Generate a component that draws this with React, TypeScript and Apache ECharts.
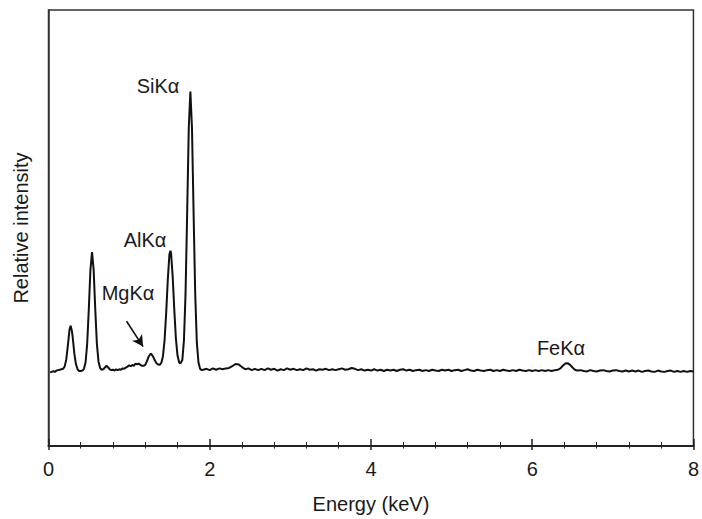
import React, { useEffect, useRef } from "react";
import * as echarts from "echarts";

// Energy (keV), relative intensity – region with the light-element peaks
const lowEnergySpectrum: [number, number][] = [
  [0.02, 16.9], [0.04, 17.0], [0.06, 17.2], [0.08, 17.0], [0.10, 17.3], [0.12, 17.4], [0.14, 17.5],
  [0.16, 17.6], [0.18, 17.7], [0.20, 18.2], [0.22, 19.8], [0.24, 23.0], [0.26, 26.6], [0.275, 27.6],
  [0.29, 26.4], [0.30, 25.0], [0.32, 21.3], [0.34, 18.8], [0.36, 17.6], [0.38, 17.2], [0.40, 17.2],
  [0.42, 17.3], [0.44, 17.7], [0.46, 19.2], [0.48, 23.5], [0.50, 31.4], [0.52, 40.4], [0.54, 44.5],
  [0.56, 40.4], [0.58, 31.4], [0.60, 23.5], [0.62, 19.4], [0.64, 17.9], [0.66, 17.5], [0.68, 17.6],
  [0.70, 18.0], [0.72, 18.4], [0.74, 18.0], [0.76, 17.6], [0.78, 17.4], [0.80, 17.5], [0.82, 17.3],
  [0.84, 17.6], [0.86, 17.4], [0.88, 17.6], [0.90, 17.5], [0.92, 17.8], [0.94, 17.7], [0.96, 18.0],
  [0.98, 18.2], [1.00, 18.5], [1.02, 18.3], [1.04, 18.6], [1.06, 18.4], [1.08, 18.9], [1.10, 18.7],
  [1.12, 18.9], [1.14, 18.6], [1.16, 18.4], [1.18, 18.4], [1.20, 18.6], [1.22, 19.4], [1.24, 20.4],
  [1.26, 21.0], [1.27, 21.2], [1.28, 21.0], [1.30, 20.4], [1.32, 19.6], [1.34, 19.0], [1.36, 18.7],
  [1.38, 18.6], [1.40, 19.1], [1.42, 20.6], [1.44, 24.3], [1.46, 30.6], [1.48, 38.2], [1.50, 44.0],
  [1.512, 44.8], [1.52, 44.3], [1.54, 39.0], [1.56, 31.4], [1.58, 24.7], [1.60, 20.8], [1.62, 19.2],
  [1.635, 18.9], [1.64, 19.0], [1.66, 19.7], [1.68, 24.2], [1.70, 35.0], [1.72, 53.4], [1.74, 73.0],
  [1.76, 81.3], [1.78, 72.8], [1.80, 53.2], [1.82, 34.8], [1.84, 23.7], [1.86, 19.2], [1.88, 17.7],
  [1.90, 17.4],
];

// Energy (keV), relative intensity – flat background and FeKα
const highEnergySpectrum: [number, number][] = [
  [1.92, 17.5], [1.96, 17.7], [2.00, 17.4], [2.04, 17.8], [2.08, 17.5], [2.12, 17.8], [2.16, 17.6],
  [2.20, 17.8], [2.24, 17.9], [2.28, 18.3], [2.32, 18.8], [2.36, 18.7], [2.40, 18.1], [2.44, 17.6],
  [2.48, 17.8], [2.52, 17.4], [2.56, 17.7], [2.60, 17.4], [2.64, 17.7], [2.68, 17.4], [2.72, 17.8],
  [2.76, 17.5], [2.80, 17.7], [2.84, 17.3], [2.88, 17.6], [2.92, 17.4], [2.96, 17.8], [3.00, 17.5],
  [3.04, 17.7], [3.08, 17.4], [3.12, 17.6], [3.16, 17.4], [3.20, 17.8], [3.24, 17.5], [3.28, 17.6],
  [3.32, 17.3], [3.36, 17.6], [3.40, 17.5], [3.44, 17.7], [3.48, 17.4], [3.52, 17.6], [3.56, 17.4],
  [3.60, 17.6], [3.64, 17.8], [3.68, 17.5], [3.72, 17.6], [3.76, 17.9], [3.80, 17.7], [3.84, 17.4],
  [3.88, 17.6], [3.92, 17.3], [3.96, 17.5], [4.00, 17.3], [4.04, 17.6], [4.08, 17.3], [4.12, 17.5],
  [4.16, 17.2], [4.20, 17.5], [4.24, 17.3], [4.28, 17.5], [4.32, 17.2], [4.36, 17.5], [4.40, 17.6],
  [4.44, 17.3], [4.48, 17.5], [4.52, 17.2], [4.56, 17.4], [4.60, 17.5], [4.64, 17.2], [4.68, 17.4],
  [4.72, 17.2], [4.76, 17.5], [4.80, 17.3], [4.84, 17.2], [4.88, 17.5], [4.92, 17.3], [4.96, 17.5],
  [5.00, 17.2], [5.04, 17.4], [5.08, 17.5], [5.12, 17.2], [5.16, 17.4], [5.20, 17.6], [5.24, 17.3],
  [5.28, 17.2], [5.32, 17.5], [5.36, 17.3], [5.40, 17.2], [5.44, 17.4], [5.48, 17.5], [5.52, 17.2],
  [5.56, 17.4], [5.60, 17.2], [5.64, 17.5], [5.68, 17.3], [5.72, 17.2], [5.76, 17.4], [5.80, 17.2],
  [5.84, 17.5], [5.88, 17.3], [5.92, 17.2], [5.96, 17.4], [6.00, 17.2], [6.04, 17.4], [6.08, 17.2],
  [6.12, 17.4], [6.16, 17.2], [6.20, 17.4], [6.24, 17.2], [6.28, 17.4], [6.32, 17.5], [6.35, 17.8],
  [6.38, 18.4], [6.41, 18.9], [6.44, 19.0], [6.47, 18.6], [6.50, 18.0], [6.53, 17.5], [6.56, 17.3],
  [6.60, 17.4], [6.64, 17.2], [6.68, 17.1], [6.72, 17.4], [6.76, 17.2], [6.80, 17.1], [6.84, 17.3],
  [6.88, 17.4], [6.92, 17.2], [6.96, 17.1], [7.00, 17.3], [7.04, 17.4], [7.08, 17.2], [7.12, 17.1],
  [7.16, 17.3], [7.20, 17.1], [7.24, 17.3], [7.28, 17.1], [7.32, 17.3], [7.36, 17.0], [7.40, 17.2],
  [7.44, 17.3], [7.48, 17.1], [7.52, 17.0], [7.56, 17.3], [7.60, 17.1], [7.64, 17.0], [7.68, 17.2],
  [7.72, 17.3], [7.76, 17.0], [7.80, 17.2], [7.84, 17.0], [7.88, 17.2], [7.92, 17.0], [7.96, 17.2],
  [8.00, 17.1],
];

const xTickValues = [0, 2, 4, 6, 8];

// Peak labels: [text, pixel centre x, pixel centre y]
const peakLabels: [string, number, number][] = [
  ["SiKα", 158, 86],
  ["AlKα", 145, 240],
  ["MgKα", 128, 293],
  ["FeKα", 561, 348],
];

// Arrow pointing to the MgKα peak (data coordinates: start, end)
const mgArrow: [number, number][] = [
  [0.968, 28.6],
  [1.173, 22.8],
];

const FONT = "'Liberation Sans', Arial, Helvetica, sans-serif";
const INK = "#1a1a1a";

export default function App() {
  const ref = useRef<HTMLDivElement>(null);

  useEffect(() => {
    if (!ref.current) return;
    const chart = echarts.init(ref.current, undefined, { renderer: "svg" });
    const spectrum = [...lowEnergySpectrum, ...highEnergySpectrum];

    chart.setOption({
      animation: false,
      backgroundColor: "#ffffff",
      grid: {
        left: 48.5,
        right: 7,
        top: 10,
        bottom: 71,
        show: true,
        borderColor: "#333",
        borderWidth: 1.5,
        backgroundColor: "transparent",
      },
      xAxis: [
        {
          type: "value",
          min: xTickValues[0],
          max: xTickValues[xTickValues.length - 1],
          interval: 2,
          name: "Energy (keV)",
          nameLocation: "middle",
          nameGap: 48,
          nameTextStyle: { fontFamily: FONT, fontSize: 20, color: INK },
          axisLine: { show: true, lineStyle: { color: "#222", width: 2 } },
          axisTick: { show: true, inside: true, length: 7, lineStyle: { color: "#222", width: 1.5 } },
          minorTick: { show: true, splitNumber: 5, length: 4, lineStyle: { color: "#222", width: 1 } },
          axisLabel: { show: true, margin: 13, fontFamily: FONT, fontSize: 20, color: INK },
          splitLine: { show: false },
        },
        {
          type: "value",
          min: xTickValues[0],
          max: xTickValues[xTickValues.length - 1],
          interval: 2,
          position: "bottom",
          axisLine: { show: false },
          axisTick: { show: true, inside: false, length: 4, lineStyle: { color: "#222", width: 1.5 } },
          minorTick: { show: true, splitNumber: 5, length: 2.5, lineStyle: { color: "#222", width: 1 } },
          axisLabel: { show: false },
          splitLine: { show: false },
        },
      ],
      yAxis: {
        type: "value",
        min: 0,
        max: 100,
        name: "Relative intensity",
        nameLocation: "middle",
        nameGap: 18,
        nameTextStyle: { fontFamily: FONT, fontSize: 20, color: INK },
        axisLine: { show: true, lineStyle: { color: "#333", width: 1.5 } },
        axisTick: { show: false },
        axisLabel: { show: false },
        splitLine: { show: false },
      },
      series: [
        {
          type: "line",
          xAxisIndex: 0,
          data: spectrum,
          showSymbol: false,
          symbol: "none",
          lineStyle: { color: "#111", width: 2 },
          smooth: false,
          markLine: {
            silent: true,
            symbol: ["none", "arrow"],
            symbolSize: [9, 11],
            label: { show: false },
            lineStyle: { color: "#111", width: 1.6, type: "solid" },
            data: [[{ coord: mgArrow[0] }, { coord: mgArrow[1] }]],
          },
        },
      ],
      graphic: peakLabels.map(([text, x, y]) => ({
        type: "text",
        x,
        y,
        style: {
          text,
          fontFamily: FONT,
          fontSize: 20,
          fill: INK,
          textAlign: "center",
          textVerticalAlign: "middle",
        },
      })),
    });

    return () => chart.dispose();
  }, []);

  return (
    <div
      ref={ref}
      style={{ position: "fixed", left: 0, top: 0, width: 702, height: 519 }}
    />
  );
}
